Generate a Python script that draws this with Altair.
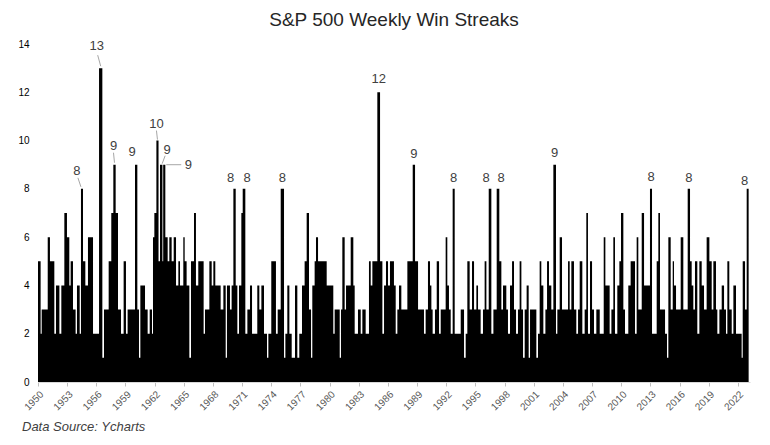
import altair as alt
import pandas as pd

# ---- data: streak start (decimal year) and streak length ----
start_year = [
    1950.0, 1950.27, 1950.38, 1951.0, 1951.23, 1951.68, 1951.85, 1952.2, 1952.4, 1952.71,
    1952.98, 1953.22, 1953.36, 1953.6, 1953.87, 1954.01, 1954.29, 1954.42, 1954.63, 1954.87,
    1955.14, 1955.66, 1956.28, 1956.62, 1956.79, 1957.27, 1957.54, 1957.75, 1957.99, 1958.23,
    1958.54, 1958.81, 1959.05, 1959.22, 1959.98, 1960.22, 1960.39, 1960.53, 1961.01, 1961.28,
    1961.49, 1961.73, 1961.83, 1961.97, 1962.18, 1962.4, 1962.55, 1962.8, 1962.88, 1963.1,
    1963.34, 1963.51, 1963.75, 1963.96, 1964.2, 1964.44,
    1964.61, 1964.95, 1965.09, 1965.29, 1965.57, 1965.74, 1966.05, 1966.25, 1966.49, 1967.04,
    1967.18, 1967.63, 1967.87, 1968.04, 1968.24, 1968.79, 1969.07, 1969.31, 1969.44, 1969.75,
    1969.92, 1970.1, 1970.34, 1970.51, 1970.68, 1970.92, 1971.06, 1971.33, 1971.54, 1971.81,
    1972.02, 1972.56, 1972.77, 1972.98, 1973.25, 1973.56, 1973.7, 1974.0, 1974.48, 1974.66,
    1974.97, 1975.31, 1975.45, 1975.65, 1975.86, 1976.1, 1976.44, 1976.68, 1976.88, 1977.16,
    1977.43, 1977.64, 1977.88, 1978.09, 1978.22, 1978.46, 1978.6, 1978.81,
    1979.42, 1979.7, 1980.38, 1980.52, 1981.04, 1981.17, 1981.31, 1981.55, 1981.69, 1982.17,
    1982.44, 1982.58, 1982.92, 1983.2, 1983.37, 1983.71, 1984.05, 1984.23, 1984.4, 1984.91,
    1985.19, 1985.43, 1985.6, 1985.8, 1986.01, 1986.21, 1986.62, 1986.8, 1986.97, 1987.14,
    1987.38, 1988.0, 1988.55, 1988.79, 1989.1, 1989.71, 1989.88, 1990.12, 1990.33, 1990.47,
    1990.6, 1990.84, 1991.02, 1991.26, 1991.43, 1991.94, 1992.11, 1992.28, 1992.46, 1992.66,
    1992.87, 1993.49, 1993.83, 1994.0, 1994.17,
    1994.41, 1994.65, 1994.86, 1995.1, 1995.27, 1995.54, 1995.78, 1995.95, 1996.13, 1996.37,
    1996.64, 1996.85, 1997.19, 1997.46, 1997.67, 1997.84, 1998.18, 1998.35, 1998.56, 1998.77,
    1998.97, 1999.18, 1999.38, 1999.55, 1999.73, 1999.9, 2000.07, 2000.27, 2000.48, 2000.62,
    2001.27, 2001.44, 2001.61, 2001.78, 2001.99, 2002.2, 2002.37, 2002.57, 2002.81, 2003.02,
    2003.29, 2003.43, 2003.67, 2003.91, 2004.53, 2004.7, 2004.87, 2005.14, 2005.38, 2005.56,
    2005.73, 2006.0, 2006.24, 2006.41, 2006.58, 2006.79, 2007.0, 2007.2, 2007.44, 2007.79,
    2008.2, 2008.37, 2008.81,
    2008.99, 2009.19, 2009.36, 2009.6, 2009.81, 2009.98, 2010.22, 2010.39, 2010.73, 2010.97,
    2011.42, 2011.59, 2011.76, 2012.11, 2012.35, 2012.96, 2013.17, 2013.65, 2013.82, 2013.99,
    2014.51, 2014.71, 2014.85, 2015.09, 2015.3, 2015.43, 2015.64, 2016.12, 2016.39, 2016.84,
    2017.08, 2017.25, 2017.42, 2017.59, 2017.83, 2018.04, 2018.28, 2018.52, 2018.79, 2019.07,
    2019.31, 2019.48, 2019.75, 2019.89, 2020.1, 2020.34, 2020.58, 2020.78, 2020.92, 2021.12,
    2021.37, 2021.54, 2021.81, 2022.39, 2022.5, 2022.74, 2022.91,
]
streak = [
    5, 2, 3, 6, 5, 2, 4, 2, 4, 7,
    6, 4, 5, 3, 2, 4, 2, 8, 5, 4,
    6, 2, 13, 1, 3, 5, 7, 9, 7, 3,
    2, 5, 2, 3, 9, 3, 1, 4, 3, 2,
    3, 2, 6, 7, 10, 5, 9, 5, 9, 6,
    5, 6, 5, 6, 4, 5,
    4, 6, 5, 4, 1, 5, 7, 4, 5, 2,
    3, 5, 4, 5, 4, 3, 4, 1, 4, 3,
    4, 8, 4, 2, 4, 7, 8, 2, 3, 4,
    2, 4, 3, 4, 2, 1, 2, 5, 2, 3,
    8, 1, 2, 4, 2, 1, 4, 1, 2, 4,
    5, 7, 3, 1, 4, 5, 6, 5,
    5, 4, 2, 3, 1, 3, 6, 3, 4, 6,
    4, 2, 3, 2, 3, 2, 5, 4, 5, 12,
    5, 2, 4, 5, 4, 5, 4, 2, 3, 4,
    3, 5, 9, 5, 3, 2, 3, 5, 4, 3,
    2, 3, 5, 2, 3, 6, 4, 3, 2, 8,
    2, 3, 1, 2, 5,
    3, 5, 3, 4, 3, 2, 3, 5, 3, 8,
    2, 3, 8, 5, 3, 4, 3, 2, 4, 5,
    3, 2, 3, 5, 3, 1, 3, 4, 1, 3,
    1, 2, 5, 4, 2, 3, 5, 4, 3, 9,
    2, 3, 6, 3, 5, 3, 5, 3, 2, 3,
    5, 2, 3, 7, 2, 5, 3, 2, 3, 2,
    6, 4, 2,
    3, 6, 2, 4, 5, 7, 3, 2, 4, 5,
    2, 6, 3, 7, 4, 8, 2, 5, 7, 3,
    2, 1, 6, 3, 5, 4, 3, 6, 3, 8,
    5, 4, 3, 5, 2, 5, 4, 3, 6, 5,
    3, 5, 3, 2, 3, 4, 3, 2, 5, 3,
    2, 4, 2, 1, 5, 3, 8,
]
last_year = 2023.11

# labelled peaks (centre of the peak's week span, streak length)
label_year = [1954.52, 1956.45, 1957.87, 1960.1, 1962.29, 1962.67, 1962.99, 1970.22, 1971.2,
              1975.14, 1985.05, 1988.67, 1992.77, 1996.5, 1997.33, 2003.15, 2013.07, 2016.96, 2023.01]
label_value = [8, 13, 9, 9, 10, 9, 9, 8, 8, 8, 12, 9, 8, 8, 8, 9, 8, 8, 8]
tick_years = list(range(1950, 2023, 3))
y_ticks = list(range(0, 15, 2))

# ---- styling: label offsets in px (dx, dy) and leader lines (x0, y0, x1, y1) ----
label_offsets = {0: (-5, -18), 1: (-4, -22), 2: (-1, -19), 3: (-4, -13), 4: (-1, -17),
                 5: (6, -15), 6: (24, 0), 7: (-4, -11), 8: (3, -11), 10: (0, -13),
                 13: (-4, -11), 14: (3, -11), 15: (0, -12), 16: (0, -12), 18: (-3, -8)}
leaders = {0: (-1, -2, -4, -11), 1: (0, -2, -3, -13), 2: (0, -2, -1, -12), 4: (0, -1, -1, -10),
           5: (1, -1, 4, -9), 6: (2, 0, 17, 0)}
FONT = "Liberation Sans"

df = pd.DataFrame({"year": start_year + [last_year], "streak": streak + [streak[-1]]})
x_scale = alt.Scale(domain=[1950, 2023.25], nice=False, zero=False)
y_scale = alt.Scale(domain=[0, 14], nice=False)

x_axis = alt.Axis(values=tick_years, format="d", labelAngle=-45, title=None, grid=False,
                  ticks=True, tickSize=4, tickColor="#bfbfbf", domainColor="#d9d9d9",
                  labelFontSize=10, labelColor="#595959", labelFont=FONT, labelPadding=3,
                  labelAlign="right", labelBaseline="top")
y_axis = alt.Axis(values=y_ticks, title=None, grid=False, domain=False, ticks=False,
                  labelPadding=9, labelFontSize=10, labelColor="#000000", labelFont=FONT)

X = alt.X("year:Q", scale=x_scale, axis=x_axis)
Y = alt.Y("streak:Q", scale=y_scale, axis=y_axis)

area = alt.Chart(df).mark_area(interpolate="step-after", color="#000000").encode(x=X, y=Y)

layers = [area]
for i, (yr, v) in enumerate(zip(label_year, label_value)):
    dx, dy = label_offsets.get(i, (0, -11))
    d = pd.DataFrame({"year": [yr], "streak": [v], "label": [str(v)]})
    base = alt.Chart(d)
    layers.append(
        base.mark_text(dx=dx, dy=dy, fontSize=13, color="#404040", font=FONT,
                       baseline="middle", align="center").encode(x=X, y=Y, text="label:N")
    )
    if i in leaders:
        x0, y0, x1, y1 = leaders[i]
        layers.append(
            base.mark_rule(color="#a6a6a6", strokeWidth=1, xOffset=x0, yOffset=y0,
                           x2Offset=x1, y2Offset=y1).encode(
                x=X, y=Y, x2=alt.X2("year"), y2=alt.Y2("streak"))
        )

footer = alt.Chart(pd.DataFrame({"t": ["Data Source: Ycharts"]})).mark_text(
    align="left", baseline="middle", fontStyle="italic", fontSize=13, color="#404040", font=FONT
).encode(x=alt.value(-16), y=alt.value(383), text="t:N")
layers.append(footer)

chart = alt.layer(*layers).properties(
    width=712, height=338,
    title=alt.Title("S&P 500 Weekly Win Streaks", fontSize=19, font=FONT, fontWeight="normal",
                    color="#262626", anchor="middle", offset=9),
    autosize=alt.AutoSizeParams(type="none"),
    padding={"left": 30, "top": 36, "right": 12, "bottom": 55},
).configure_view(stroke=None)

chart.save("out.html", embed_options={"renderer": "svg", "actions": False})
